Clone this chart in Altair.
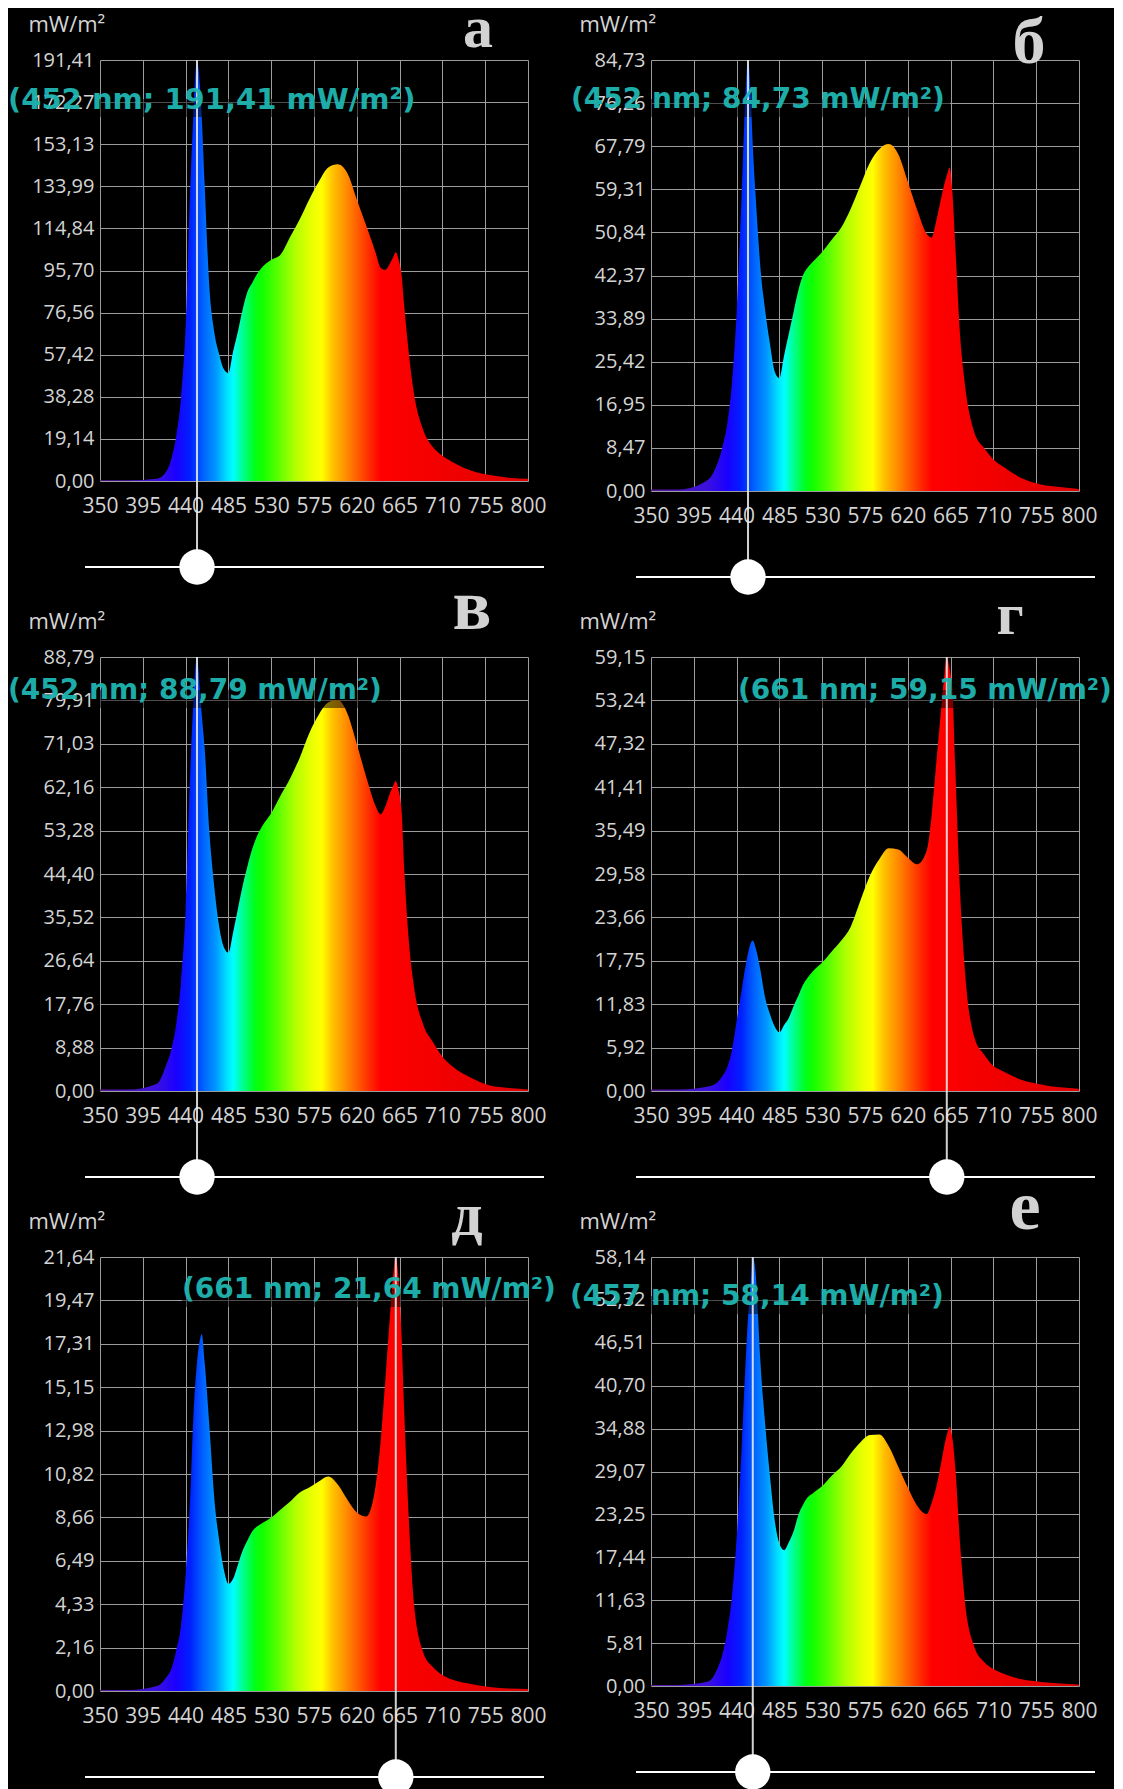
import altair as alt
import pandas as pd

# ---------------- data ----------------
WL = [350, 380, 410, 420, 425, 430, 435, 440, 445, 448,
      452, 455, 457, 460, 465, 470, 475, 480, 485, 490,
      495, 500, 505, 510, 515, 520, 530, 540, 550, 560,
      570, 580, 590, 600, 610, 620, 630, 640, 645, 650,
      655, 658, 661, 664, 667, 670, 675, 680, 690, 700,
      710, 720, 740, 760, 780, 800]

SPEC_A = [0.3, 0.3, 1, 4.5, 10, 20, 37, 70, 135, 165,
          191.41, 180, 165, 135, 88, 68, 58, 51, 49, 59,
          68, 78, 86, 90, 94, 97, 100.5, 103, 111, 119,
          128, 136, 142.5, 144, 140, 128, 116, 103.5, 97, 96,
          99, 101.5, 104, 100.5, 94, 79, 57, 40, 23, 15.5,
          11.5, 8.8, 4.8, 2.7, 1.5, 1.0]

SPEC_B = [0.3, 0.3, 2.2, 5.5, 8.5, 13, 21, 35, 57, 72,
          84.73, 77, 68, 58, 44, 35.5, 29, 23.5, 22.2, 26.7,
          31, 35.3, 39.5, 42.5, 44, 45, 47, 49.4, 51.8, 55.5,
          60, 64.5, 67.2, 68.2, 66.2, 60.8, 55.2, 50.5, 49.8, 53.2,
          57.5, 60, 62, 63.6, 58.5, 48, 30.5, 21, 11.5, 8.5,
          6.2, 4.8, 2.5, 1.3, 0.8, 0.4]

SPEC_V = [0.3, 0.3, 1.5, 5.5, 8.5, 13.5, 22, 37, 66, 79,
          88.79, 82, 77, 70.2, 53, 42, 34, 29.5, 28.3, 32.5,
          37.3, 42, 46, 49.5, 52.1, 54, 56.8, 60.5, 64, 68.2,
          73.2, 77, 79.5, 80, 77.3, 71, 64.2, 58.2, 56.6, 58.2,
          61, 62.3, 63.4, 61.5, 57.6, 45, 30, 21.5, 13.5, 10,
          7, 5.1, 2.7, 1.1, 0.6, 0.3]

SPEC_G = [0.2, 0.2, 0.6, 1.2, 2, 3.2, 5.5, 9.5, 13.5, 16,
          18.8, 20.2, 20.5, 19.5, 16.5, 12.7, 10.5, 8.8, 8, 9,
          10, 11.6, 13, 14.5, 15.5, 16.3, 17.5, 19, 20.5, 22.4,
          25.9, 29.3, 31.6, 33.1, 32.9, 31.8, 30.9, 32.8, 37.5, 44.8,
          52, 56.2, 59.15, 57.5, 54.5, 44, 27, 16.5, 7.3, 5,
          3.4, 2.7, 1.5, 0.9, 0.5, 0.3]

SPEC_D = [0.05, 0.05, 0.25, 0.7, 1.1, 2.0, 3.2, 5.8, 9.9, 13.5,
          16.4, 17.5, 17.8, 16.4, 13.2, 9.7, 7.6, 6.1, 5.35, 5.6,
          6.3, 7.0, 7.5, 7.95, 8.2, 8.35, 8.65, 9.05, 9.45, 9.9,
          10.15, 10.45, 10.7, 10.3, 9.55, 8.9, 8.7, 10.3, 12.4, 15.5,
          18.8, 20.6, 21.64, 20.5, 17.8, 13.8, 8.3, 4.4, 1.9, 1.2,
          0.8, 0.57, 0.35, 0.2, 0.12, 0.1]

SPEC_E = [0.15, 0.15, 0.6, 2.4, 4.2, 7.3, 12, 20, 31.5, 40,
          50, 55, 58.14, 56, 44, 35.5, 28.5, 22.5, 19.3, 18.4,
          19.5, 21, 23.2, 24.6, 25.6, 26.1, 27.1, 28.5, 29.7, 31.5,
          33, 34, 34.1, 32.5, 29.7, 26.9, 24.4, 23.3, 24.8, 27,
          30.2, 32.3, 34, 35.1, 33.5, 29.5, 19.2, 11.5, 5.3, 3.3,
          2.3, 1.7, 0.9, 0.55, 0.35, 0.2]

SERIES = [SPEC_A, SPEC_B, SPEC_V, SPEC_G, SPEC_D, SPEC_E]
LETTERS = ["а", "б", "в", "г", "д", "е"]
PEAK_NM = [452, 452, 452, 661, 661, 457]
PEAK_TXT = ["191,41", "84,73", "88,79", "59,15", "21,64", "58,14"]
YMAX = [191.41, 84.73, 88.79, 59.15, 21.64, 58.14]
Y_LABELS = [
    ["0,00", "19,14", "38,28", "57,42", "76,56", "95,70", "114,84", "133,99", "153,13", "172,27", "191,41"],
    ["0,00", "8,47", "16,95", "25,42", "33,89", "42,37", "50,84", "59,31", "67,79", "76,26", "84,73"],
    ["0,00", "8,88", "17,76", "26,64", "35,52", "44,40", "53,28", "62,16", "71,03", "79,91", "88,79"],
    ["0,00", "5,92", "11,83", "17,75", "23,66", "29,58", "35,49", "41,41", "47,32", "53,24", "59,15"],
    ["0,00", "2,16", "4,33", "6,49", "8,66", "10,82", "12,98", "15,15", "17,31", "19,47", "21,64"],
    ["0,00", "5,81", "11,63", "17,44", "23,25", "29,07", "34,88", "40,70", "46,51", "52,32", "58,14"],
]
X_TICKS = [350, 395, 440, 485, 530, 575, 620, 665, 710, 755, 800]
UNIT = "mW/m²"

# ---------------- styles / layout ----------------
W = 428
HS = [421, 431, 434, 434, 434, 429]
ANN_X = [-92, -80, -92, 87, 82, -81]
ANN_Y = [40, 40, 34, 34, 33, 40]
ANN_FS = [29, 28, 28, 28, 28, 28]
ANN_W = [405, 379, 383, 379, 379, 380]
LET_X = [378, 378, 372, 359, 367, 374]
LET_Y = [-13, 3, -28, -23, -22, -28]
LET_FS = [60, 66, 72, 60, 62, 70]
TEAL = "#1fb6b2"
LABEL_C = "#d4d4d4"
GRID_C = "#9c9c9c"

STOPS = [(350, "#5a1a9a"), (410, "#3a10e0"), (430, "#1a00ff"), (445, "#0020ff"),
         (458, "#0060ff"), (472, "#0098ff"), (482, "#00d8ff"), (490, "#00ffff"),
         (500, "#00ff90"), (512, "#00ff20"), (520, "#10ff00"), (535, "#50ff00"),
         (555, "#b0ff00"), (572, "#e8ff00"), (583, "#ffff00"), (595, "#ffc000"),
         (608, "#ff9000"), (620, "#ff6000"), (632, "#ff3000"), (645, "#ff0000"),
         (800, "#e00000")]

grad = alt.Gradient(
    gradient="linear", x1=0, x2=1, y1=0, y2=0,
    stops=[alt.GradientStop(color=c, offset=(w - 350) / 450) for w, c in STOPS],
)


def panel(i):
    df = pd.DataFrame({"wl": WL, "v": SERIES[i]})
    one = pd.DataFrame({"k": [0]})
    ymax = YMAX[i]
    H = HS[i]
    slider_y = H + 86
    yvals = [ymax * k / 10 for k in range(11)]
    lab_expr = "[" + ",".join(f"'{s}'" for s in Y_LABELS[i]) + f"][round(datum.value*10/{ymax})]"

    area = alt.Chart(df).mark_area(interpolate="monotone", color=grad).encode(
        x=alt.X("wl:Q",
                scale=alt.Scale(domain=[350, 800], nice=False, zero=False),
                axis=alt.Axis(values=X_TICKS, title=None, grid=True, ticks=False, domain=False,
                              labelFont="Open Sans", labelFontSize=21, labelColor=LABEL_C,
                              labelPadding=14, labelOverlap=False, labelFlush=False,
                              gridColor=GRID_C, gridWidth=1, format="d")),
        y=alt.Y("v:Q",
                scale=alt.Scale(domain=[0, ymax], nice=False, zero=True),
                axis=alt.Axis(values=yvals, labelExpr=lab_expr, grid=True, ticks=False, domain=False,
                              labelFont="Open Sans", labelFontSize=20, labelColor=LABEL_C,
                              labelPadding=6, labelOverlap=False, labelFlush=False,
                              gridColor=GRID_C, gridWidth=1,
                              title=UNIT, titleAngle=0, titleX=-72, titleY=-36,
                              titleAlign="left", titleBaseline="middle",
                              titleFont="Open Sans", titleFontSize=22, titleFontWeight="normal",
                              titleColor=LABEL_C)),
    )

    box = alt.Chart(one).mark_rect(color="black", opacity=0.5, clip=True).encode(
        x=alt.value(ANN_X[i]), x2=alt.value(ANN_X[i] + ANN_W[i]),
        y=alt.value(ANN_Y[i] - 1), y2=alt.value(ANN_Y[i] + 17),
    )

    marker = alt.Chart(one).mark_rule(color="#e8e8e8", strokeWidth=2, opacity=0.9).encode(
        x=alt.datum(PEAK_NM[i]), y=alt.datum(ymax), y2=alt.value(slider_y),
    )

    slider = alt.Chart(one).mark_rule(color="white", strokeWidth=2).encode(
        x=alt.value(-15), x2=alt.value(W + 16), y=alt.value(slider_y),
    )

    knob = alt.Chart(one).mark_circle(color="white", opacity=1, size=1250).encode(
        x=alt.datum(PEAK_NM[i]), y=alt.value(slider_y),
    )

    ann = alt.Chart(one).mark_text(
        text=f"({PEAK_NM[i]} nm; {PEAK_TXT[i]} {UNIT})", align="left", baseline="middle",
        font="DejaVu Sans", fontWeight="bold", fontSize=ANN_FS[i], color=TEAL, opacity=0.95,
    ).encode(x=alt.value(ANN_X[i]), y=alt.value(ANN_Y[i]))

    letter = alt.Chart(one).mark_text(
        text=LETTERS[i], align="center", baseline="alphabetic",
        font="Liberation Serif", fontWeight="bold", fontSize=LET_FS[i], color="#d2d2d2",
    ).encode(x=alt.value(LET_X[i]), y=alt.value(LET_Y[i]))

    return alt.layer(area, box, marker, slider, knob, ann, letter).properties(width=W, height=H)


chart = alt.concat(
    *[panel(i) for i in range(6)],
    columns=2,
    spacing={"row": 166, "column": 123},
    bounds="flush",
).properties(
    background="black",
    padding={"left": 0, "top": -9, "right": 2, "bottom": 0},
).configure_view(stroke=None)

chart.save("out.html", embed_options={"renderer": "svg", "actions": False})
